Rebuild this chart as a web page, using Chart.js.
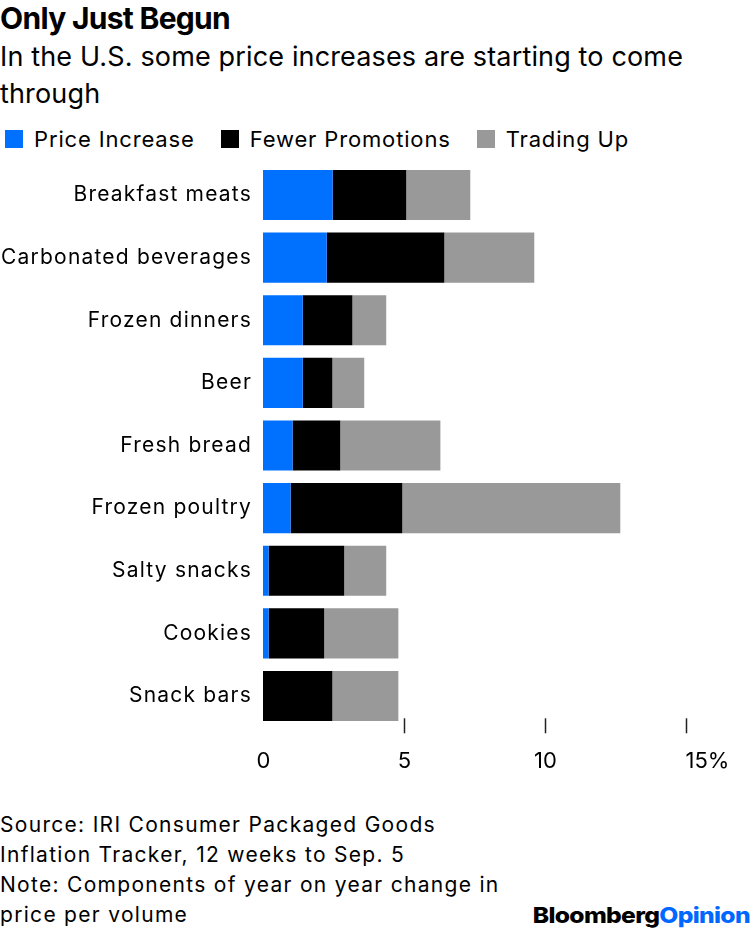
<!DOCTYPE html>
<html>
<head>
<meta charset="utf-8">
<script src="https://cdn.jsdelivr.net/npm/chart.js@4"></script>
<style>
  body { margin: 0; width: 750px; height: 932px; background: #fff; font-family: Inter, "Liberation Sans", sans-serif; color: #000; position: relative; overflow: hidden; }
  .title { position: absolute; left: 0; top: 0; font-size: 30px; font-weight: 700; letter-spacing: -0.7px; }
  .subtitle { position: absolute; left: 0; top: 38px; width: 730px; font-size: 27px; line-height: 37px; letter-spacing: 0.15px; }
  .legend { position: absolute; left: 5px; top: 126px; font-size: 22px; letter-spacing: 0.85px; display: flex; align-items: center; }
  .legend span.box { display: inline-block; width: 18px; height: 18px; margin-right: 11px; }
  .legend span.item { display: flex; align-items: center; margin-right: 26px; }
  .footer { position: absolute; left: 0; top: 810px; font-size: 21px; line-height: 30px; letter-spacing: 1.3px; }
  .logo { position: absolute; right: 0; top: 902px; font-size: 22px; font-weight: 800; letter-spacing: -0.6px; transform: scaleX(1.12); transform-origin: right center; }
  .logo .op { color: #0068ff; }
  #wrap { position: absolute; left: 0; top: 160px; width: 750px; height: 640px; }
</style>
</head>
<body>
<div class="title">Only Just Begun</div>
<div class="subtitle">In the U.S. some price increases are starting to come through</div>
<div class="legend" id="legend"></div>
<div id="wrap"><canvas id="chart"></canvas></div>
<div class="footer">Source: IRI Consumer Packaged Goods<br>Inflation Tracker, 12 weeks to Sep. 5<br>Note: Components of year on year change in<br>price per volume</div>
<div class="logo">Bloomberg<span class="op">Opinion</span></div>
<script>
const categories = ['Breakfast meats', 'Carbonated beverages', 'Frozen dinners', 'Beer', 'Fresh bread',
                    'Frozen poultry', 'Salty snacks', 'Cookies', 'Snack bars'];
const priceIncrease  = [2.47, 2.26, 1.41, 1.41, 1.05, 0.98, 0.20, 0.20, 0];
const fewerPromos    = [2.61, 4.17, 1.76, 1.05, 1.69, 3.96, 2.68, 1.97, 2.46];
const tradingUp      = [2.27, 3.19, 1.20, 1.13, 3.55, 7.73, 1.49, 2.63, 2.34];
const seriesNames = ['Price Increase', 'Fewer Promotions', 'Trading Up'];
const seriesColors = ['#0070ff', '#000000', '#999999'];
const tickValues = [0, 5, 10, 15];
const tickLabels = ['0', '5', '10', '15%'];

// html legend
const legendEl = document.getElementById('legend');
seriesNames.forEach((name, i) => {
    legendEl.insertAdjacentHTML('beforeend',
        '<span class="item"><span class="box" style="background:' + seriesColors[i] + '"></span>' + name + '</span>');
});

// wider tracking for the category labels
const spacingPlugin = {
    id: 'spacing',
    beforeDraw(chart) {
        chart.ctx.letterSpacing = '1.2px';
    }
};

// bloomberg style x axis: short marks + labels, last label hangs right
const xTicksPlugin = {
    id: 'xTicks',
    afterDraw(chart) {
        const ctx = chart.ctx;
        const x = chart.scales.x;
        const bottom = chart.chartArea.bottom;
        ctx.save();
        ctx.letterSpacing = '0px';
        ctx.strokeStyle = '#222';
        ctx.lineWidth = 1.5;
        ctx.fillStyle = '#000';
        ctx.font = '22px Inter, "Liberation Sans", sans-serif';
        ctx.textBaseline = 'middle';
        tickValues.forEach((v, i) => {
            const px = Math.round(x.getPixelForValue(v)) + 0.5;
            if (v !== 0) {
                ctx.beginPath();
                ctx.moveTo(px, bottom - 9);
                ctx.lineTo(px, bottom + 6);
                ctx.stroke();
            }
            const last = i === tickValues.length - 1;
            ctx.textAlign = last ? 'left' : 'center';
            ctx.fillText(tickLabels[i], last ? px - 1 : px, bottom + 34);
        });
        ctx.restore();
    }
};

const ctx = document.getElementById('chart').getContext('2d');
const chart = new Chart(ctx, {
    type: 'bar',
    data: {
        labels: categories,
        datasets: [priceIncrease, fewerPromos, tradingUp].map((d, i) => ({
            label: seriesNames[i],
            data: d,
            backgroundColor: seriesColors[i],
            borderWidth: 0,
            categoryPercentage: 1,
            barPercentage: 0.8
        }))
    },
    options: {
        indexAxis: 'y',
        responsive: true,
        maintainAspectRatio: false,
        animation: false,
        layout: { padding: { top: 3.7, bottom: 72.7, left: 0, right: 64 } },
        plugins: {
            legend: { display: false },
            tooltip: { enabled: false }
        },
        scales: {
            x: {
                stacked: true,
                min: 0,
                max: 15,
                display: false
            },
            y: {
                stacked: true,
                grid: { display: false, drawTicks: false },
                border: { display: false },
                ticks: {
                    color: '#000',
                    padding: 11,
                    font: { family: 'Inter, "Liberation Sans", sans-serif', size: 21 }
                },
                afterFit(scale) {
                    scale.width = 263;
                    scale.paddingTop = 0;
                    scale.paddingBottom = 0;
                }
            }
        }
    },
    plugins: [spacingPlugin, xTicksPlugin]
});
</script>
</body>
</html>
